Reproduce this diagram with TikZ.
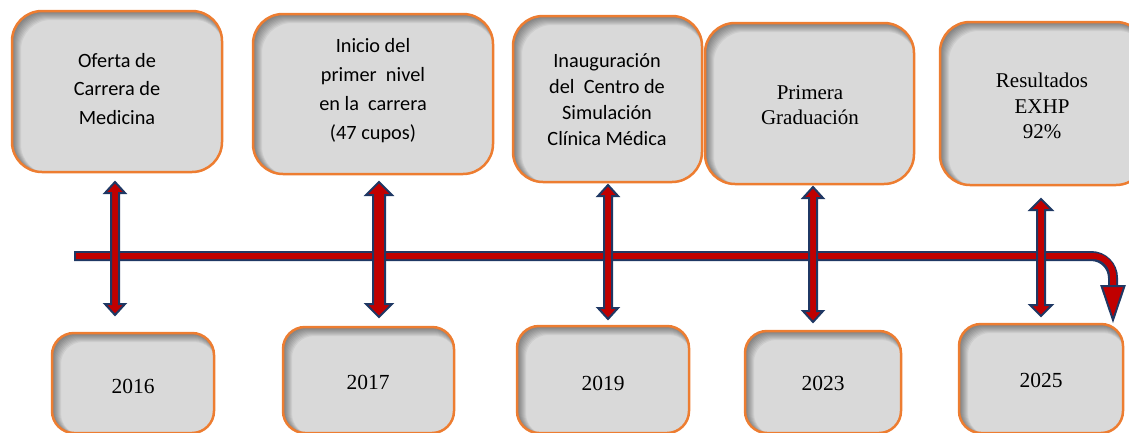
\documentclass[tikz,border=0pt]{standalone}
\usepackage{fontspec}
\newfontfamily\carl{Carlito}
\newfontfamily\tms{Liberation Serif}
\definecolor{boxgray}{HTML}{D9D9D9}
\definecolor{borderor}{HTML}{ED7D31}
\definecolor{navy}{HTML}{1F3864}
\definecolor{arrred}{HTML}{C00000}
\tikzset{
  boxline/.style={draw=borderor, line width=2.5pt},
  arrowshape/.style={fill=arrred, draw=navy, line width=2pt, line join=miter},
  topfont/.style={font=\carl\fontsize{20.3}{28.5}\selectfont, align=center, text=black},
  tmsfont/.style={font=\tms\fontsize{21}{25.5}\selectfont, align=center, text=black},
  yearfont/.style={font=\tms\fontsize{21.5}{25}\selectfont, text=black}
}
% name, x1, y1, x2, y2, radius
\newcommand{\shadebox}[6]{%
  \fill[boxgray, rounded corners=#6pt] (#2,#3) rectangle (#4,#5);
  \begin{scope}
    \clip[rounded corners=#6pt] (#2,#3) rectangle (#4,#5);
    \foreach \d in {1,...,9}
      \fill[black, opacity=0.055, even odd rule] (#2-20,#3-20) rectangle (#4+20,#5+20)
        [rounded corners=#6pt] (#2+\d,#3+\d) rectangle (#4+\d*0.25,#5+\d*0.25);
  \end{scope}
  \draw[boxline, rounded corners=#6pt] (#2,#3) rectangle (#4,#5);
  \coordinate (#1) at ({(#2+#4)/2},{(#3+#5)/2});
}
% x, ytop, ybot, shaft half width, head half width, head length
\newcommand{\vdarrow}[6]{%
  \filldraw[arrowshape] (#1-#4,#2+#6) -- (#1-#5,#2+#6) -- (#1,#2) -- (#1+#5,#2+#6) -- (#1+#4,#2+#6)
    -- (#1+#4,#3-#6) -- (#1+#5,#3-#6) -- (#1,#3) -- (#1-#5,#3-#6) -- (#1-#4,#3-#6) -- cycle;
}
\begin{document}
\begin{tikzpicture}[x=1pt,y=-1pt]
\useasboundingbox (0,0) rectangle (1129,432);
\clip (0,0) rectangle (1129,432);
% top boxes
\shadebox{b1}{12}{11}{222}{172}{30}
\shadebox{b2}{253}{14}{493}{174}{30}
\shadebox{b3}{513}{16}{702}{182}{30}
\shadebox{b4}{705}{23}{914}{184}{30}
\shadebox{b5}{940}{22}{1146}{185}{30}
\node[topfont] (t1) at (117,89) {Oferta de\\Carrera de\\Medicina};
\node[topfont, font=\carl\fontsize{20.3}{29}\selectfont] (t2) at (373,91) {Inicio del\\primer~ nivel\\en la~ carrera\\(47 cupos)};
\node[topfont, font=\carl\fontsize{20.3}{26}\selectfont] (t3) at (607,100) {Inauguración\\del~ Centro de\\Simulación\\Clínica Médica};
\node[tmsfont] (t4) at (810,105) {Primera\\Graduación};
\node[tmsfont] (t5) at (1042,106) {Resultados\\EXHP\\92\%};
% bottom boxes
\shadebox{y1}{52}{333}{214}{433}{22}
\shadebox{y2}{283}{327}{454}{433}{22}
\shadebox{y3}{517}{326}{689}{433}{22}
\shadebox{y4}{745}{331}{901}{433}{22}
\shadebox{y5}{959}{324}{1123}{433}{22}
\node[yearfont] (n1) at (133,386) {2016};
\node[yearfont] (n2) at (368,382) {2017};
\node[yearfont] (n3) at (603,383) {2019};
\node[yearfont] (n4) at (823,383) {2023};
\node[yearfont] (n5) at (1041,380) {2025};
% timeline
\coordinate (tl0) at (74,256);
\coordinate (tlc) at (1113,256);
\coordinate (tl1) at (1113,292);
\coordinate (tip) at (1113,320);
\draw[navy, line width=10pt, rounded corners=22pt] (tl0) -- (tlc) -- (tl1);
\draw[arrred, line width=6pt, rounded corners=20pt] ([xshift=2pt]tl0) -- (tlc) -- (tl1);
\filldraw[arrowshape] (1101.5,286) -- (1124.5,286) -- (tip) -- cycle;
% vertical double arrows
\vdarrow{115}{182}{315}{4}{10}{11}
\vdarrow{379}{182}{317}{6}{13}{13}
\vdarrow{608}{185}{319}{4}{10}{11}
\vdarrow{813}{187}{322}{4}{10}{11}
\vdarrow{1041}{199}{316}{4}{11}{11}
\end{tikzpicture}
\end{document}
